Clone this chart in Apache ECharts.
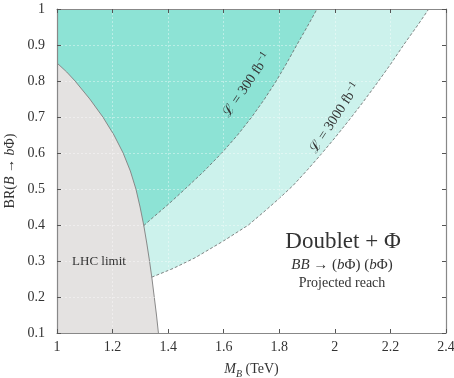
<!DOCTYPE html>
<html>
<head>
<meta charset="utf-8">
<script src="https://cdn.jsdelivr.net/npm/echarts@6/dist/echarts.min.js"></script>
<style>html,body{margin:0;padding:0;background:#fff}#c{width:454px;height:378px}</style>
</head>
<body>
<div id="c"></div>
<script>
// ---- data ----
const xTicks = [1, 1.2, 1.4, 1.6, 1.8, 2, 2.2, 2.4];
const yTicks = [0.1, 0.2, 0.3, 0.4, 0.5, 0.6, 0.7, 0.8, 0.9, 1];

// LHC exclusion boundary [M_B, BR]
const lhcLimit = [
  [1, 0.85], [1.035, 0.825], [1.065, 0.8], [1.118, 0.75], [1.165, 0.7],
  [1.205, 0.65], [1.238, 0.6], [1.264, 0.55], [1.284, 0.5], [1.299, 0.45],
  [1.312, 0.4], [1.323, 0.35], [1.333, 0.3], [1.342, 0.25], [1.35, 0.2],
  [1.358, 0.15], [1.365, 0.1]
];
// Projected reach, L = 300 fb^-1
const reach300 = [
  [1.312, 0.398], [1.335, 0.414], [1.4, 0.457], [1.461, 0.5], [1.53, 0.55],
  [1.593, 0.6], [1.65, 0.65], [1.701, 0.7], [1.747, 0.75], [1.789, 0.8],
  [1.827, 0.85], [1.863, 0.9], [1.9, 0.95], [1.936, 1.0]
];
// Projected reach, L = 3000 fb^-1
const reach3000 = [
  [1.341, 0.255], [1.42, 0.28], [1.497, 0.309], [1.6, 0.356], [1.689, 0.4],
  [1.75, 0.44], [1.8, 0.474], [1.85, 0.51], [1.9, 0.552], [1.95, 0.596],
  [2.0, 0.642], [2.05, 0.69], [2.1, 0.74], [2.15, 0.792], [2.2, 0.846],
  [2.25, 0.903], [2.3, 0.957], [2.338, 1.0]
];

// ---- chart ----
const xMin = xTicks[0], xMax = xTicks[xTicks.length - 1];
const yMin = yTicks[0], yMax = yTicks[yTicks.length - 1];
const xInt = +(xTicks[1] - xTicks[0]).toFixed(6);
const yInt = +(yTicks[1] - yTicks[0]).toFixed(6);

const SERIF = 'Liberation Serif';
const TXT = '#333';
const AX = '#888';

// regions built from the curves and the axis bounds
const lightRegion = reach3000.concat([[xMin, yMax], [xMin, reach3000[0][1]]]);
const darkRegion = reach300.concat([[xMin, yMax], [xMin, reach300[0][1]]]);
const grayRegion = lhcLimit.concat([[xMin, yMin]]);

function polySeries(points, color) {
  return {
    type: 'custom', z: 1, silent: true, clip: true,
    data: [[xMin, yMin]],
    renderItem: function (params, api) {
      return {
        type: 'polygon',
        shape: { points: points.map(function (p) { return api.coord(p); }) },
        style: { fill: color }
      };
    }
  };
}

function lineSeries(points, style) {
  return {
    type: 'line', z: 2, silent: true, showSymbol: false, smooth: false,
    data: points, lineStyle: style, clip: true
  };
}

const baseAxis = {
  axisLine: { show: true, onZero: false, lineStyle: { color: AX, width: 1.2 } },
  axisTick: { show: true, inside: true, length: 4, lineStyle: { color: '#555', width: 1 } },
  axisLabel: { color: TXT, fontFamily: SERIF, fontSize: 14 },
  z: 5
};

const option = {
  animation: false,
  backgroundColor: '#fff',
  grid: { left: 57, right: 8, top: 9, bottom: 45, containLabel: false, outerBoundsMode: 'none' },
  xAxis: [
    Object.assign({}, baseAxis, {
      type: 'value', min: xMin, max: xMax, interval: xInt, position: 'bottom',
      axisLabel: Object.assign({}, baseAxis.axisLabel, { margin: 7 }),
      splitLine: { show: true, lineStyle: { color: 'rgba(255,255,255,0.4)', type: [2, 2], width: 1 } },
      name: '{i|M}{s|B} (TeV)', nameLocation: 'middle', nameGap: 26, nameMoveOverlap: false,
      nameTextStyle: {
        color: TXT, fontFamily: SERIF, fontSize: 14, lineHeight: 20,
        rich: {
          i: { fontFamily: SERIF, fontStyle: 'italic', fontSize: 14, color: TXT, lineHeight: 20 },
          s: { fontFamily: SERIF, fontStyle: 'italic', fontSize: 10, color: TXT, lineHeight: 12, verticalAlign: 'bottom' }
        }
      }
    }),
    Object.assign({}, baseAxis, {
      type: 'value', min: xMin, max: xMax, interval: xInt, position: 'top',
      axisLabel: { show: false }, splitLine: { show: false }
    })
  ],
  yAxis: [
    Object.assign({}, baseAxis, {
      type: 'value', min: yMin, max: yMax, interval: yInt, position: 'left',
      axisLabel: Object.assign({}, baseAxis.axisLabel, { margin: 12 }),
      splitLine: { show: true, lineStyle: { color: 'rgba(255,255,255,0.4)', type: [2, 2], width: 1 } },
      name: 'BR({i|B} → {i|b}Φ)', nameLocation: 'middle', nameGap: 40, nameRotate: 90, nameMoveOverlap: false,
      nameTextStyle: {
        color: TXT, fontFamily: SERIF, fontSize: 14,
        rich: { i: { fontFamily: SERIF, fontStyle: 'italic', fontSize: 14, color: TXT } }
      }
    }),
    Object.assign({}, baseAxis, {
      type: 'value', min: yMin, max: yMax, interval: yInt, position: 'right',
      axisLabel: { show: false }, splitLine: { show: false }
    })
  ],
  series: [
    polySeries(lightRegion, '#CCF2EC'),
    polySeries(darkRegion, '#8DE3D5'),
    polySeries(grayRegion, '#E4E2E1'),
    lineSeries(reach3000, { color: '#666', width: 0.8, type: [3, 2] }),
    lineSeries(reach300, { color: '#666', width: 0.8, type: [3, 2] }),
    lineSeries(lhcLimit, { color: '#888', width: 1, type: 'solid' })
  ],
  graphic: [
    { type: 'text', x: 99, y: 262, z: 10, silent: true,
      style: { text: 'LHC limit', fill: TXT, font: '13px "Liberation Serif"', align: 'center', verticalAlign: 'middle' } },
    { type: 'text', x: 343, y: 242, z: 10, silent: true,
      style: { text: 'Doublet + Φ', fill: TXT, font: '23px "Liberation Serif"', align: 'center', verticalAlign: 'middle' } },
    { type: 'text', x: 342, y: 265, z: 10, silent: true,
      style: { text: '{i|BB} → ({i|b}Φ) ({i|b}Φ)', fill: TXT, font: '15px "Liberation Serif"', align: 'center', verticalAlign: 'middle',
        rich: { i: { font: 'italic 15px "Liberation Serif"', fill: TXT } } } },
    { type: 'text', x: 342, y: 283, z: 10, silent: true,
      style: { text: 'Projected reach', fill: TXT, font: '14px "Liberation Serif"', align: 'center', verticalAlign: 'middle' } },
    { type: 'text', x: 247, y: 85, z: 10, silent: true, rotation: 56 * Math.PI / 180,
      style: { text: 'ℒ = 300 fb{s|−1}', fill: TXT, font: '14px "Liberation Serif"', align: 'center', verticalAlign: 'middle',
        rich: { s: { font: '10px "Liberation Serif"', fill: TXT, verticalAlign: 'top', lineHeight: 17 } } } },
    { type: 'text', x: 335, y: 118, z: 10, silent: true, rotation: 57 * Math.PI / 180,
      style: { text: 'ℒ = 3000 fb{s|−1}', fill: TXT, font: '14px "Liberation Serif"', align: 'center', verticalAlign: 'middle',
        rich: { s: { font: '10px "Liberation Serif"', fill: TXT, verticalAlign: 'top', lineHeight: 17 } } } }
  ]
};

const chart = echarts.init(document.getElementById('c'), null, { renderer: 'canvas' });
chart.setOption(option);
</script>
</body>
</html>
